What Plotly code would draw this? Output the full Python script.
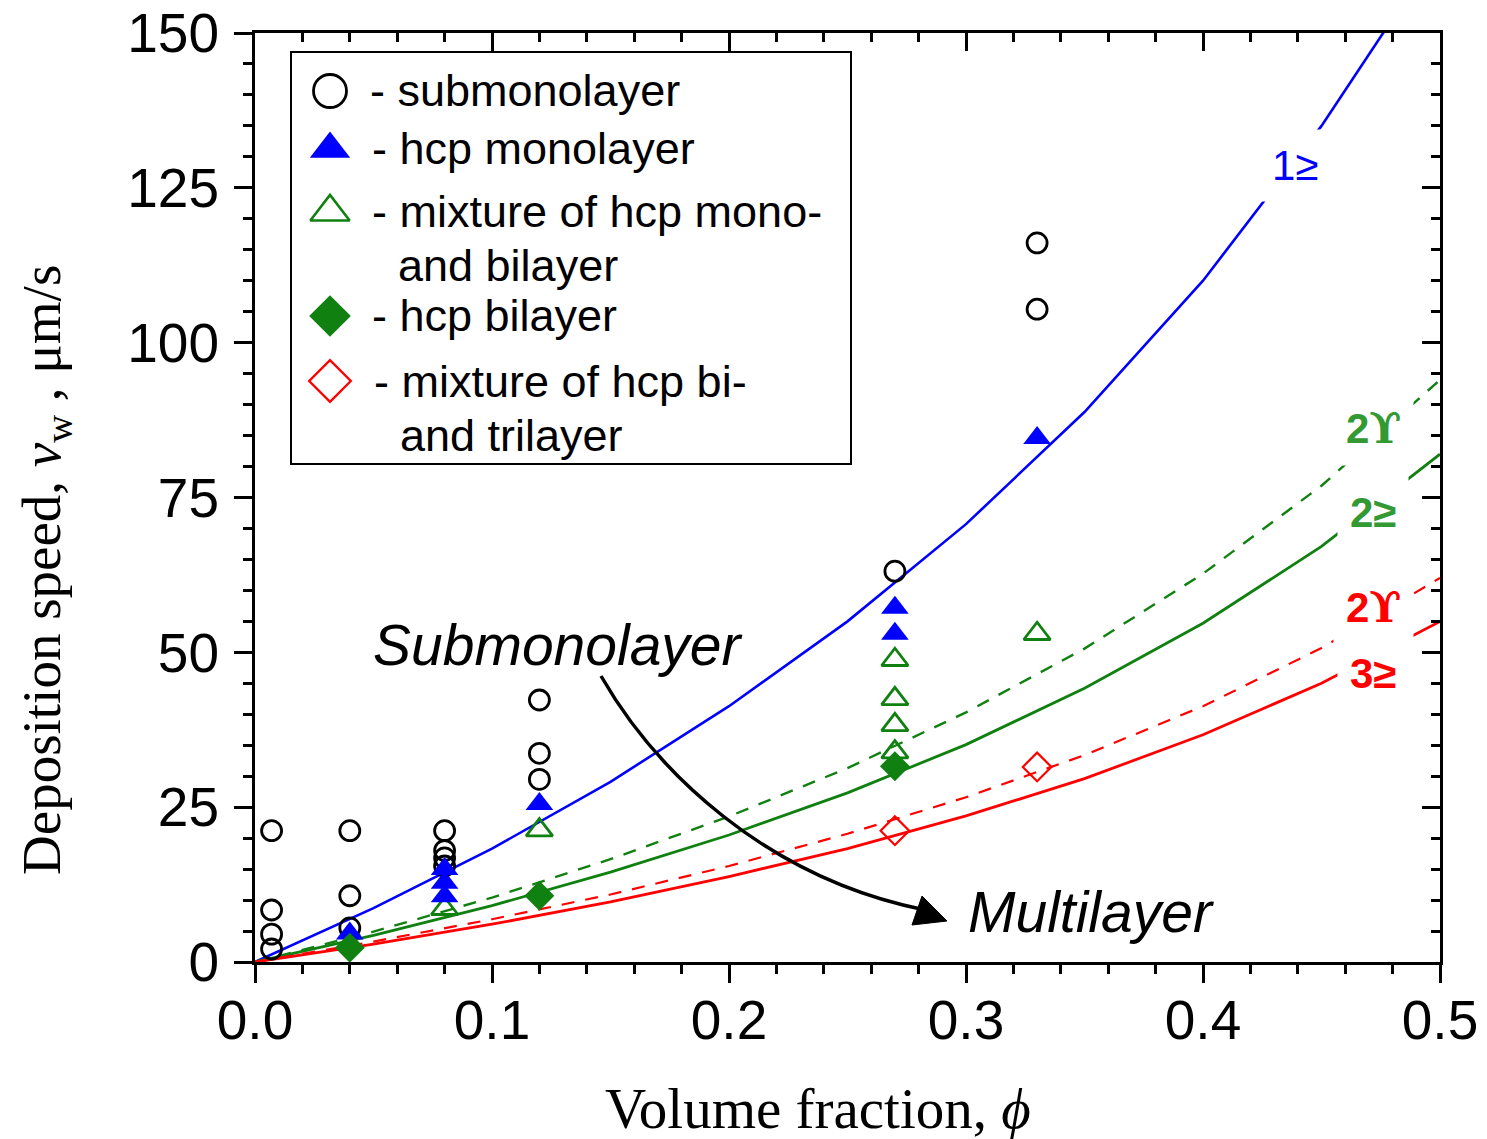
import plotly.graph_objects as go

# ---------------- data ----------------
sub_x = [0.007, 0.007, 0.007, 0.007, 0.04, 0.04, 0.04, 0.08, 0.08, 0.08, 0.08,
         0.12, 0.12, 0.12, 0.27, 0.33, 0.33]
sub_y = [21.2, 8.4, 4.5, 2.1, 21.2, 10.7, 5.5, 21.2, 18.0, 16.8, 15.5,
         42.3, 33.7, 29.5, 63.1, 116.1, 105.4]

mono_x = [0.04, 0.08, 0.08, 0.08, 0.12, 0.27, 0.27, 0.33]
mono_y = [4.6, 15.0, 12.8, 10.6, 25.5, 57.2, 53.0, 84.6]

mixmb_x = [0.08, 0.12, 0.27, 0.27, 0.27, 0.27, 0.33]
mixmb_y = [8.6, 21.3, 48.8, 42.5, 38.3, 33.9, 53.0]

bi_x = [0.04, 0.12, 0.27]
bi_y = [2.3, 10.7, 31.6]

mixbt_x = [0.27, 0.33]
mixbt_y = [21.2, 31.5]

curve_x = [0.0, 0.05, 0.10, 0.15, 0.20, 0.25, 0.30, 0.35, 0.40, 0.45, 0.48]
blue_y = [0.0, 8.7, 18.3, 29.1, 41.3, 55.0, 70.7, 88.8, 110.0, 135.0, 152.3]

curve_x2 = [0.0, 0.05, 0.10, 0.15, 0.20, 0.25, 0.30, 0.35, 0.40, 0.45, 0.50]
green_dash_y = [0.0, 4.9, 10.4, 16.6, 23.5, 31.3, 40.3, 50.6, 62.7, 76.9, 94.0]
green_solid_y = [0.0, 4.3, 9.1, 14.5, 20.5, 27.3, 35.1, 44.2, 54.7, 67.1, 82.0]
red_dash_y = [0.0, 3.3, 6.9, 10.9, 15.5, 20.7, 26.6, 33.4, 41.3, 50.7, 62.0]
red_solid_y = [0.0, 2.9, 6.1, 9.7, 13.8, 18.3, 23.6, 29.6, 36.7, 45.0, 55.0]

x_ticks = [0.0, 0.1, 0.2, 0.3, 0.4, 0.5]
x_ticklabels = ["0.0", "0.1", "0.2", "0.3", "0.4", "0.5"]
y_ticks = [0, 25, 50, 75, 100, 125, 150]
y_ticklabels = ["0", "25", "50", "75", "100", "125", "150"]

legend_labels = ["- submonolayer", "- hcp monolayer", "- mixture of hcp mono-",
                 "and bilayer", "- hcp bilayer", "- mixture of hcp bi-", "and trilayer"]
curve_nums = ["1", "2", "2", "2", "3"]
curve_syms = ["\u2265", "\u03d2", "\u2265", "\u03d2", "\u2265"]

# ---------------- layout constants ----------------
W, H = 1487, 1139
L, R, T, B = 255, 1440, 33, 962
XR = [0.0, 0.5]
YR = [0.0, 150.0]

BLUE = "#0000ff"
GREEN = "#108010"
LGREEN = "#339933"
RED = "#ff0000"


def px2d(px, py):
    return (XR[0] + (px - L) / (R - L) * (XR[1] - XR[0]),
            YR[0] + (B - py) / (B - T) * (YR[1] - YR[0]))


def px2p(px, py):
    return ((px - L) / (R - L), (B - py) / (B - T))


fig = go.Figure()

# curves
fig.add_trace(go.Scatter(x=curve_x, y=blue_y, mode="lines",
                         line=dict(color=BLUE, width=2.6), showlegend=False))
fig.add_trace(go.Scatter(x=curve_x2, y=green_dash_y, mode="lines",
                         line=dict(color=GREEN, width=2.4, dash="13px,11px"), showlegend=False))
fig.add_trace(go.Scatter(x=curve_x2, y=green_solid_y, mode="lines",
                         line=dict(color=GREEN, width=2.8), showlegend=False))
fig.add_trace(go.Scatter(x=curve_x2, y=red_dash_y, mode="lines",
                         line=dict(color=RED, width=2.2, dash="13px,11px"), showlegend=False))
fig.add_trace(go.Scatter(x=curve_x2, y=red_solid_y, mode="lines",
                         line=dict(color=RED, width=2.8), showlegend=False))

# data markers
fig.add_trace(go.Scatter(x=sub_x, y=sub_y, mode="markers", showlegend=False,
                         marker=dict(symbol="circle-open", size=20, color="black",
                                     line=dict(width=2.8, color="black"))))
fig.add_trace(go.Scatter(x=mixmb_x, y=mixmb_y, mode="markers", showlegend=False,
                         marker=dict(symbol="triangle-up-open", size=23, color=GREEN,
                                     line=dict(width=2.8, color=GREEN))))
fig.add_trace(go.Scatter(x=mono_x, y=mono_y, mode="markers", showlegend=False,
                         marker=dict(symbol="triangle-up", size=24, color=BLUE,
                                     line=dict(width=0))))
fig.add_trace(go.Scatter(x=bi_x, y=bi_y, mode="markers", showlegend=False,
                         marker=dict(symbol="diamond", size=23, color=GREEN,
                                     line=dict(width=0))))
fig.add_trace(go.Scatter(x=mixbt_x, y=mixbt_y, mode="markers", showlegend=False,
                         marker=dict(symbol="diamond-open", size=22, color=RED,
                                     line=dict(width=2.2, color=RED))))

# dummy trace to create mirrored top/right axes
fig.add_trace(go.Scatter(x=[0.25], y=[-50], xaxis="x2", yaxis="y2", mode="markers",
                         showlegend=False, hoverinfo="skip", marker=dict(size=1, opacity=0)))

# legend symbols (on an invisible overlay axis in plot fractions)
leg_sym = [
    (330, 91, "circle-open", 33, "black", 2.8),
    (330, 149, "triangle-up", 35, BLUE, 0),
    (330, 212, "triangle-up-open", 34, GREEN, 2.6),
    (330, 316, "diamond", 32, GREEN, 0),
    (330, 381, "diamond-open", 32, RED, 2.4),
]
for px, py, sym, sz, col, lw in leg_sym:
    fx, fy = px2p(px, py)
    fig.add_trace(go.Scatter(x=[fx], y=[fy], xaxis="x3", yaxis="y3", mode="markers",
                             showlegend=False, hoverinfo="skip",
                             marker=dict(symbol=sym, size=sz, color=col,
                                         line=dict(width=lw, color=col))))

axis_common = dict(showgrid=False, zeroline=False, showline=True, linecolor="black",
                   linewidth=3, mirror=False, automargin=False)

fig.update_layout(
    width=W, height=H,
    margin=dict(l=L, r=W - R, t=T, b=H - B, pad=0, autoexpand=False),
    paper_bgcolor="white", plot_bgcolor="white",
    font=dict(family="Liberation Sans, Arial, sans-serif", color="black"),
    showlegend=False,
    xaxis=dict(range=XR, tickvals=x_ticks, ticktext=x_ticklabels, ticks="outside",
               ticklen=18, tickwidth=3, tickcolor="black",
               tickfont=dict(size=55, family="Liberation Sans, Arial"),
               ticklabelstandoff=-10,
               minor=dict(dtick=0.02, tick0=0, ticks="outside", ticklen=9, tickwidth=2.5,
                          tickcolor="black"),
               **axis_common),
    yaxis=dict(range=YR, tickvals=y_ticks, ticktext=y_ticklabels, ticks="outside",
               ticklen=18, tickwidth=3, tickcolor="black",
               tickfont=dict(size=55, family="Liberation Sans, Arial"),
               ticklabelstandoff=4,
               minor=dict(dtick=5, tick0=0, ticks="outside", ticklen=9, tickwidth=2.5,
                          tickcolor="black"),
               **axis_common),
    xaxis2=dict(range=XR, overlaying="x", side="top", tickvals=x_ticks, showticklabels=False,
                ticks="inside", ticklen=18, tickwidth=3, tickcolor="black",
                minor=dict(dtick=0.02, tick0=0, ticks="inside", ticklen=9, tickwidth=2.5,
                           tickcolor="black"),
                **axis_common),
    yaxis2=dict(range=YR, overlaying="y", side="right", tickvals=y_ticks, showticklabels=False,
                ticks="inside", ticklen=18, tickwidth=3, tickcolor="black",
                minor=dict(dtick=5, tick0=0, ticks="inside", ticklen=9, tickwidth=2.5,
                           tickcolor="black"),
                **axis_common),
    xaxis3=dict(range=[0, 1], overlaying="x", visible=False, fixedrange=True, automargin=False),
    yaxis3=dict(range=[0, 1], overlaying="y", visible=False, fixedrange=True, automargin=False),
)

# legend box
bx0, by0 = px2p(291, 52)
bx1, by1 = px2p(851, 464)
fig.add_shape(type="rect", xref="x3", yref="y3", x0=bx0, y0=by1, x1=bx1, y1=by0,
              line=dict(color="black", width=2), fillcolor="rgba(0,0,0,0)", layer="below")

leg_txt_pos = [(368, 90), (370, 148), (370, 211), (396, 265), (370, 315), (372, 381), (398, 435)]
for (px, py), txt in zip(leg_txt_pos, legend_labels):
    fx, fy = px2p(px, py)
    fig.add_annotation(x=fx, y=fy, xref="x3", yref="y3", text=txt, showarrow=False,
                       xanchor="left", yanchor="middle",
                       font=dict(size=45, family="Liberation Sans, Arial", color="black"))

# curve labels
curve_lab_pos = [(1295, 165, BLUE, False), (1373, 428, LGREEN, True), (1373, 512, LGREEN, True),
                 (1373, 607, RED, True), (1373, 673, RED, True)]
for (px, py, col, bold), num, sym in zip(curve_lab_pos, curve_nums, curve_syms):
    dx, dy = px2d(px, py)
    if sym == "\u03d2":
        txt = num + '<span style="font-family:\'DejaVu Serif\'">' + sym + "</span>"
    else:
        txt = num + sym
    if bold:
        txt = "<b>" + txt + "</b>"
    fig.add_annotation(x=dx, y=dy, xref="x", yref="y", text=txt, showarrow=False,
                       xanchor="center", yanchor="middle", bgcolor="white", borderpad=12,
                       font=dict(size=42, family="Liberation Sans, Arial", color=col))

# italic captions
sx, sy = px2d(558, 645)
fig.add_annotation(x=sx, y=sy, xref="x", yref="y", text="<i>Submonolayer</i>", showarrow=False,
                   xanchor="center", yanchor="middle",
                   font=dict(size=57, family="Liberation Sans, Arial", color="black"))
mx, my = px2d(1091, 912)
fig.add_annotation(x=mx, y=my, xref="x", yref="y", text="<i>Multilayer</i>", showarrow=False,
                   xanchor="center", yanchor="middle",
                   font=dict(size=57, family="Liberation Sans, Arial", color="black"))

# curved arrow
p0 = px2d(601, 676)
c1 = px2d(655, 770)
c2 = px2d(765, 878)
p3 = px2d(925, 910)
path = "M %f,%f C %f,%f %f,%f %f,%f" % (p0[0], p0[1], c1[0], c1[1], c2[0], c2[1], p3[0], p3[1])
fig.add_shape(type="path", xref="x", yref="y", path=path,
              line=dict(color="black", width=3.5))
h1 = px2d(947, 921)
h2 = px2d(922, 896)
h3 = px2d(912, 925)
head = "M %f,%f L %f,%f L %f,%f Z" % (h1[0], h1[1], h2[0], h2[1], h3[0], h3[1])
fig.add_shape(type="path", xref="x", yref="y", path=head,
              line=dict(color="black", width=1), fillcolor="black")

# axis titles
fig.add_annotation(xref="paper", yref="paper", x=(818 - L) / (R - L), y=(B - 1108) / (B - T),
                   text="Volume fraction, <i>\u03d5</i>", showarrow=False,
                   xanchor="center", yanchor="middle",
                   font=dict(size=57, family="Liberation Serif, Times New Roman, serif",
                             color="black"))
fig.add_annotation(xref="paper", yref="paper", x=(45 - L) / (R - L), y=(B - 570) / (B - T),
                   text="Deposition speed, <i>v</i><sub>w</sub> , \u03bcm/s", showarrow=False,
                   textangle=-90, xanchor="center", yanchor="middle",
                   font=dict(size=55, family="Liberation Serif, Times New Roman, serif",
                             color="black"))

fig.write_html("out.html", config={"displayModeBar": False},
               post_script="document.body.style.margin='0';document.body.style.overflow='hidden';")
